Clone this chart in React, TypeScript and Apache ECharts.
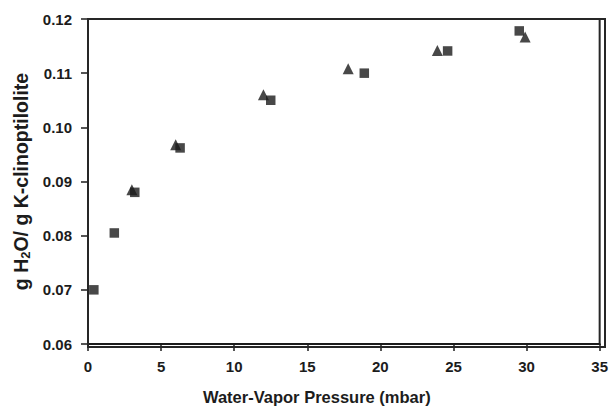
import React, { useEffect, useRef } from "react";
import * as echarts from "echarts";

const squareX = [0.4, 1.8, 3.2, 6.3, 12.5, 18.9, 24.6, 29.5];
const squareY = [0.070, 0.0805, 0.088, 0.0962, 0.105, 0.110, 0.1141, 0.1178];
const triangleX = [3.0, 6.0, 12.0, 17.8, 23.9, 29.9];
const triangleY = [0.0885, 0.0968, 0.106, 0.1108, 0.1142, 0.1167];
const xTicks = [0, 5, 10, 15, 20, 25, 30, 35];
const yTicks = [0.06, 0.07, 0.08, 0.09, 0.1, 0.11, 0.12];

const FONT = "Liberation Sans, Arial, sans-serif";
const INK = "#1c1c1c";
const W = 611;
const H = 410;
const G = { left: 88, right: 8, top: 19, bottom: 65 };

export default function App() {
  const ref = useRef<HTMLDivElement>(null);
  useEffect(() => {
    if (!ref.current) return;
    const chart = echarts.init(ref.current, undefined, { renderer: "svg" });
    const xMin = xTicks[0];
    const xMax = xTicks[xTicks.length - 1];
    const yMin = yTicks[0];
    const yMax = yTicks[yTicks.length - 1];
    chart.setOption({
      animation: false,
      backgroundColor: "#fff",
      grid: { ...G, show: true, borderColor: "#262626", borderWidth: 2 },
      graphic: [
        {
          type: "rect",
          left: G.left - 1,
          top: G.top - 1,
          z: 100,
          silent: true,
          shape: { width: W - G.left - G.right + 2, height: H - G.top - G.bottom + 2 },
          style: { fill: "transparent", stroke: "#262626", lineWidth: 2 },
        },
      ],
      xAxis: {
        type: "value",
        min: xMin,
        max: xMax,
        interval: 5,
        axisLine: { show: true, onZero: false, lineStyle: { color: INK, width: 1.8 } },
        axisTick: { show: true, inside: false, length: 7, lineStyle: { color: INK, width: 1.5 } },
        splitLine: { show: false },
        axisLabel: { color: INK, fontFamily: FONT, fontWeight: "bold", fontSize: 15, margin: 15 },
        name: "Water-Vapor Pressure (mbar)",
        nameLocation: "middle",
        nameGap: 44,
        nameTextStyle: { color: INK, fontFamily: FONT, fontWeight: "bold", fontSize: 16.5, padding: [0, 54, 0, 0] },
      },
      yAxis: {
        type: "value",
        min: yMin,
        max: yMax,
        interval: 0.01,
        axisLine: { show: true, onZero: false, lineStyle: { color: INK, width: 1.8 } },
        axisTick: { show: true, inside: false, length: 7, lineStyle: { color: INK, width: 1.5 } },
        splitLine: { show: false },
        axisLabel: { color: INK, fontFamily: FONT, fontWeight: "bold", fontSize: 15, margin: 16, formatter: (v: number) => v.toFixed(2) },
        name: "{a|g H}{s|2}{a|O/ g K-clinoptilolite}",
        nameLocation: "middle",
        nameGap: 53,
        nameRotate: 90,
        nameTextStyle: {
          rich: {
            a: { color: INK, fontFamily: FONT, fontWeight: "bold", fontSize: 19.5 },
            s: { color: INK, fontFamily: FONT, fontWeight: "bold", fontSize: 13, padding: [9, 0, 0, 0] },
          },
        },
      },
      series: [
        {
          type: "scatter",
          symbol: "triangle",
          symbolSize: 11,
          itemStyle: { color: "#1a1a1a" },
          data: triangleX.map((x, i) => [x, triangleY[i]]),
        },
        {
          type: "scatter",
          symbol: "rect",
          symbolSize: 9.5,
          itemStyle: { color: "#1a1a1a" },
          data: squareX.map((x, i) => [x, squareY[i]]),
        },
      ],
    });
    return () => chart.dispose();
  }, []);
  return <div ref={ref} style={{ width: W, height: H, position: "absolute", left: 0, top: 0 }} />;
}
